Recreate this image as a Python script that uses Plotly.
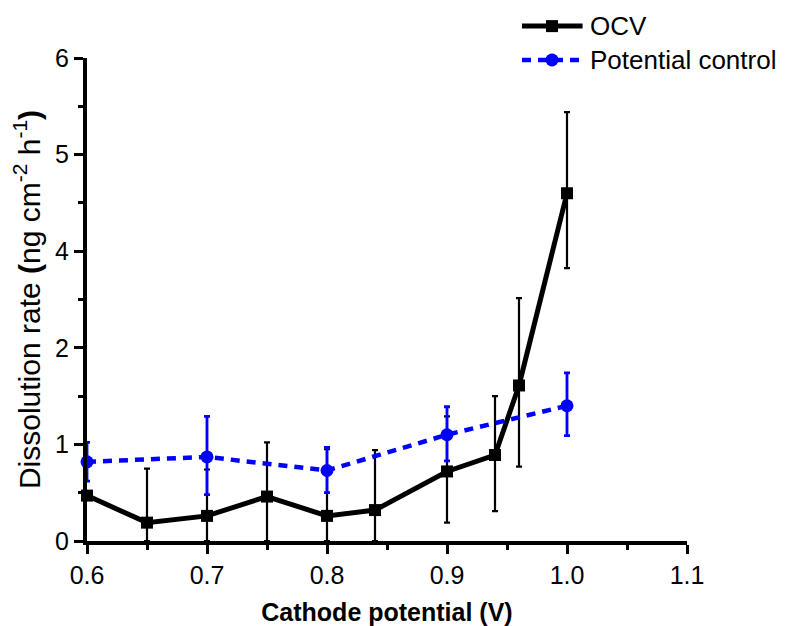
import numpy as np
import plotly.graph_objects as go

# ---- data -------------------------------------------------------------
ocv_potential = [0.60, 0.65, 0.70, 0.75, 0.80, 0.84, 0.90, 0.94, 0.96, 1.00]
ocv_rate = [0.47, 0.19, 0.26, 0.46, 0.26, 0.32, 0.72, 0.89, 1.61, 4.60]
ocv_err_plus = [0.00, 0.56, 0.48, 0.56, 0.69, 0.62, 0.57, 0.61, 1.42, 0.84]
ocv_err_minus = [0.00, 0.19, 0.26, 0.46, 0.26, 0.32, 0.53, 0.58, 0.84, 0.95]

pc_potential = [0.60, 0.70, 0.80, 0.90, 1.00]
pc_rate = [0.82, 0.87, 0.73, 1.10, 1.40]
pc_err_plus = [0.20, 0.42, 0.24, 0.29, 0.34]
pc_err_minus = [0.20, 0.39, 0.23, 0.27, 0.31]

series_names = ["OCV", "Potential control"]
y_tick_values = [0, 1, 2, 4, 5, 6]
y_minor_values = [0.5, 1.5, 3, 4.5, 5.5]
x_tick_values = [0.6, 0.7, 0.8, 0.9, 1.0, 1.1]


# The rate axis is compressed between 2 and 4 (one axis unit spans 2 ng).
def to_axis(v):
    v = np.asarray(v, dtype=float)
    return np.where(v <= 2, v, np.where(v <= 4, 2 + (v - 2) / 2, v - 1))


def series(x, y, plus, minus):
    y = np.asarray(y, float)
    ya = to_axis(y)
    up = to_axis(y + np.asarray(plus)) - ya
    dn = ya - to_axis(y - np.asarray(minus))
    return x, ya, up, dn


FONT = "Liberation Sans, Arial, sans-serif"
BLACK = "black"
BLUE = "#0000FF"
BLUE_DASH = "9px,7px"

fig = go.Figure()

x, ya, up, dn = series(ocv_potential, ocv_rate, ocv_err_plus, ocv_err_minus)
fig.add_trace(go.Scatter(
    x=x, y=ya, name=series_names[0], mode="lines+markers",
    line=dict(color=BLACK, width=5),
    marker=dict(symbol="square", size=12, color=BLACK),
    error_y=dict(type="data", symmetric=False, array=up, arrayminus=dn,
                 color=BLACK, thickness=2.2, width=3),
    cliponaxis=False, showlegend=False,
))

x, ya, up, dn = series(pc_potential, pc_rate, pc_err_plus, pc_err_minus)
fig.add_trace(go.Scatter(
    x=x, y=ya, name=series_names[1], mode="lines+markers",
    line=dict(color=BLUE, width=4.5, dash=BLUE_DASH),
    marker=dict(symbol="circle", size=13, color=BLUE),
    error_y=dict(type="data", symmetric=False, array=up, arrayminus=dn,
                 color=BLUE, thickness=2.8, width=3),
    cliponaxis=False, showlegend=False,
))

# ---- legend (long sample lines, drawn in paper coordinates) -----------
legend_rows = [
    dict(name=series_names[0], y=1.066, color=BLACK, dash="solid", width=5,
         marker="rect", half=6),
    dict(name=series_names[1], y=0.996, color=BLUE, dash=BLUE_DASH, width=4.5,
         marker="circle", half=6.5),
]
line_x0, line_x1, mark_x, text_x = 0.725, 0.826, 0.775, 0.835
for row in legend_rows:
    fig.add_shape(type="line", xref="paper", yref="paper",
                  x0=line_x0, x1=line_x1, y0=row["y"], y1=row["y"],
                  line=dict(color=row["color"], width=row["width"], dash=row["dash"]))
    fig.add_shape(type=row["marker"], xref="paper", yref="paper",
                  xsizemode="pixel", ysizemode="pixel",
                  xanchor=mark_x, yanchor=row["y"],
                  x0=-row["half"], x1=row["half"], y0=-row["half"], y1=row["half"],
                  fillcolor=row["color"], line=dict(width=0))
    fig.add_annotation(text=row["name"], xref="paper", yref="paper",
                       x=text_x, y=row["y"], xanchor="left", yanchor="middle",
                       showarrow=False, font=dict(family=FONT, size=26, color=BLACK))

fig.update_layout(
    width=787, height=626,
    margin=dict(l=87, r=100, t=58, b=85),
    paper_bgcolor="white", plot_bgcolor="white",
    font=dict(family=FONT, size=25, color=BLACK),
    showlegend=False,
)

fig.update_xaxes(
    range=[0.6, 1.1], showgrid=False, zeroline=False, automargin=False,
    showline=True, linecolor=BLACK, linewidth=4,
    ticks="outside", ticklen=9, tickwidth=3, tickcolor=BLACK,
    tickvals=x_tick_values, tickformat=".1f",
    tickfont=dict(family=FONT, size=25),
    minor=dict(dtick=0.05, tick0=0.6, ticks="outside", ticklen=5,
               tickwidth=3, tickcolor=BLACK),
    title=dict(text="<b>Cathode potential (V)</b>",
               font=dict(family=FONT, size=25), standoff=18),
)

fig.update_yaxes(
    range=[0, 5], showgrid=False, zeroline=False, automargin=False,
    showline=True, linecolor=BLACK, linewidth=4,
    ticks="outside", ticklen=9, tickwidth=3, tickcolor=BLACK,
    tickvals=to_axis(y_tick_values).tolist(),
    ticktext=[str(v) for v in y_tick_values],
    tickfont=dict(family=FONT, size=25),
    minor=dict(tickvals=to_axis(y_minor_values).tolist(), ticks="outside",
               ticklen=5, tickwidth=3, tickcolor=BLACK),
    title=dict(text="Dissolution rate <b>(</b>ng cm<sup>-2</sup> h<sup>-1</sup><b>)</b>",
               font=dict(family=FONT, size=30), standoff=7),
)

fig.write_html("out.html")
